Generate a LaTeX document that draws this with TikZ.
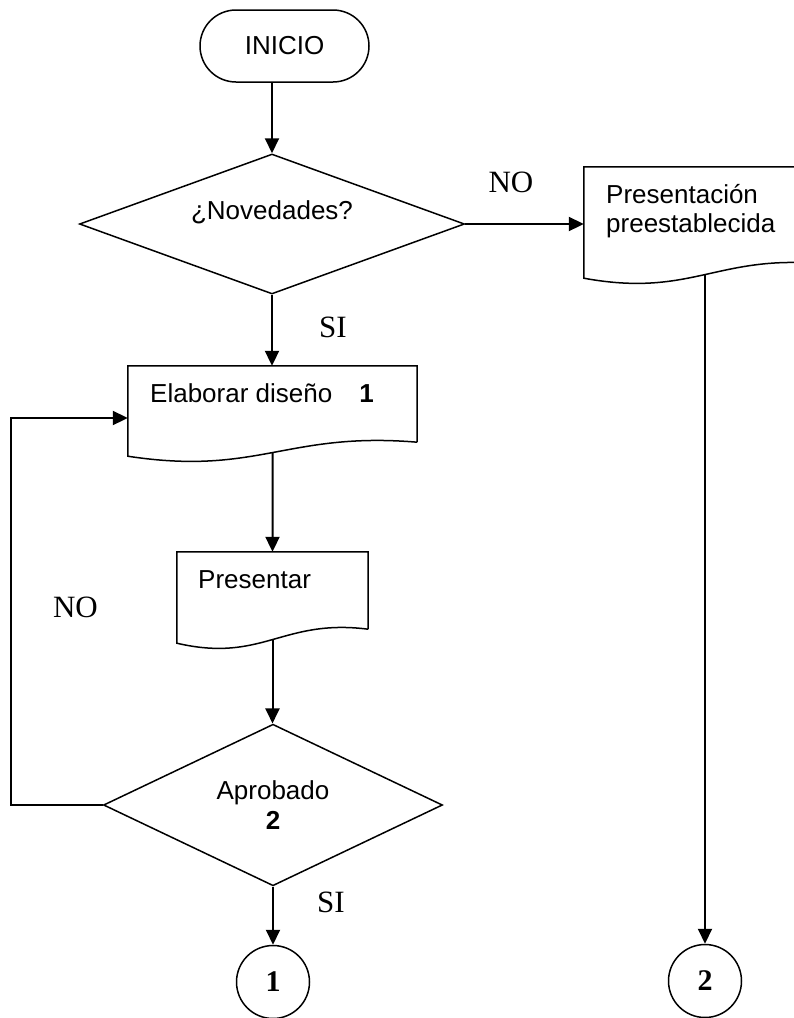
\documentclass[tikz,border=0pt]{standalone}
\usepackage{fontspec}
\setmainfont{Liberation Sans}
\newfontfamily\timesf{Liberation Serif}
\usepackage{tikz}
\usetikzlibrary{
	shapes.geometric,
	positioning,
	calc,
	arrows.meta
}

% wavy-bottom document outline round a docbox node
\newcommand\docline[1]{%
	\draw[outline] ($(#1.south east)+(0,14)$) -- (#1.north east) -- (#1.north west) -- (#1.south west)
		.. controls ($(#1.south west)!0.45!(#1.south east)+(0,-20)$) and ($(#1.south west)!0.55!(#1.south east)+(0,25)$)
		.. ($(#1.south east)+(0,14)$) coordinate[pos=0.5] (#1-w);}

\begin{document}
\begin{tikzpicture}[
		x=1pt, y=1pt,
		outline/.style={line width=1.5pt},
		arr/.style={line width=2pt, -{Triangle[length=15pt,width=14pt]}},
		txt/.style={inner sep=0pt, font=\fontsize{26}{30}\selectfont},
		lbl/.style={inner sep=0pt, font=\timesf\fontsize{31}{31}\selectfont},
		docbox/.style={rectangle, inner sep=0pt},
		decision/.style={diamond, draw, outline, inner sep=0pt, txt, align=center},
		terminal/.style={rectangle, rounded corners=36pt, draw, outline, txt, minimum width=169pt, minimum height=72pt},
		connector/.style={circle, draw, outline, inner sep=0pt, minimum size=73pt, font=\timesf\bfseries\fontsize{30}{30}\selectfont}
	]
		\useasboundingbox (0,0) rectangle (793,-1018);

		\node[terminal]                                           (ini)   at (284.5,-46)  {INICIO};
		\node[decision, minimum width=385pt, minimum height=140pt] (nov)   at (272,-224)   {};
		\node[txt, anchor=base]                                   (nov-t) at (272,-219)   {¿Novedades?};

		\node[docbox, minimum width=242pt, minimum height=111pt]  (presb) at (705,-222.5) {};
		\node[txt, anchor=base west]                              (presb-t1) at (606,-203) {Presentación};
		\node[txt, anchor=base west]                              (presb-t2) at (606,-232) {preestablecida};

		\node[docbox, minimum width=289pt, minimum height=90pt]   (elab)  at (272.5,-411) {};
		\node[txt, anchor=base west]                              (elab-t) at (150,-402)  {Elaborar diseño\hspace{27pt}\textbf{1}};

		\node[docbox, minimum width=191pt, minimum height=91pt]   (prst)  at (272.5,-597.5) {};
		\node[txt, anchor=base west]                              (prst-t) at (198,-588)  {Presentar};

		\node[decision, minimum width=339pt, minimum height=136pt] (apr)  at (273,-805)   {Aprobado\\\textbf{2}};

		\node[connector] (c1) at (273,-982) {1};
		\node[connector] (c2) at (705,-981) {2};

		\node[lbl, anchor=base] (no1) at (511,-192)  {NO};
		\node[lbl, anchor=base] (si1) at (333,-337)  {SI};
		\node[lbl, anchor=base] (no2) at (75.5,-617) {NO};
		\node[lbl, anchor=base] (si2) at (331,-912)  {SI};

		\coordinate (lp) at (11,-418);

		\docline{presb}
		\docline{elab}
		\docline{prst}

		\draw[arr] (ini.south -| nov.north) -- (nov.north);
		\draw[arr] (nov.east) -- (nov.east -| presb.west);
		\draw[arr] (nov.south) -- (nov.south |- elab.north);
		\draw[arr] (elab-w) -- (prst.north);
		\draw[arr] (prst-w) -- (prst-w |- apr.north);
		\draw[arr] (apr.west) -| (lp) -- (lp -| elab.west);
		\draw[arr] (apr.south) -- (c1.north);
		\draw[arr] (presb-w) -- (presb-w |- c2.north);
	\end{tikzpicture}
\end{document}
